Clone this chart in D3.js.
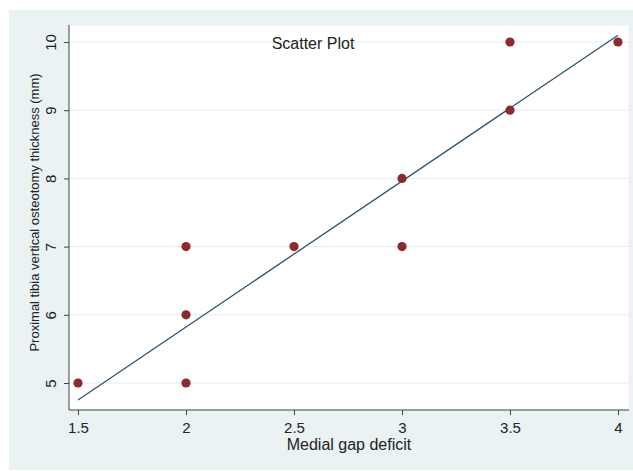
<!DOCTYPE html>
<html><head><meta charset="utf-8">
<script src="https://cdn.jsdelivr.net/npm/d3@7"></script>
<style>body{margin:0;background:#fff;}svg{display:block;font-family:"Liberation Sans",Arial,sans-serif;}</style>
</head><body>
<script>
const xValues = [1.5, 2, 2, 2, 2.5, 3, 3, 3.5, 3.5, 4];
const yValues = [5, 5, 6, 7, 7, 7, 8, 9, 10, 10];
const fitX = [1.5, 4];
const fitY = [4.75, 10.1];
const xTicks = [1.5, 2, 2.5, 3, 3.5, 4];
const yTicks = [5, 6, 7, 8, 9, 10];
const title = "Scatter Plot";
const xLabel = "Medial gap deficit";
const yLabel = "Proximal tibia vertical osteotomy thickness (mm)";

const W = 633, H = 471;
const svg = d3.select("body").append("svg").attr("width", W).attr("height", H);
svg.append("rect").attr("x", 9).attr("y", 10).attr("width", W - 9).attr("height", 460).attr("fill", "#eaf2f3");
const L = 69, R = 629, T = 25, B = 410;
svg.append("rect").attr("x", L).attr("y", T).attr("width", R - L).attr("height", B - T).attr("fill", "#fff").attr("stroke", "#eef2f3");

const x = d3.scaleLinear().domain([1.5, 4]).range([78, 618]);
const y = d3.scaleLinear().domain([5, 10]).range([383, 42]);

svg.append("g").selectAll("line").data(yTicks).join("line")
  .attr("x1", L).attr("x2", R).attr("y1", d => y(d)).attr("y2", d => y(d))
  .attr("stroke", "#e6eced").attr("stroke-width", 1);

const xa = svg.append("g").attr("transform", `translate(0,${B})`)
  .call(d3.axisBottom(x).tickValues(xTicks).tickFormat(d3.format("")).tickSize(5).tickPadding(7));
xa.select(".domain").attr("d", `M${L},0H${R}`).attr("stroke", "#444");
xa.selectAll(".tick line").attr("stroke", "#444");
xa.selectAll("text").attr("font-size", 15).attr("fill", "#222").attr("font-family", "Liberation Sans, Arial, sans-serif");

const ya = svg.append("g").attr("transform", `translate(${L},0)`)
  .call(d3.axisLeft(y).tickValues(yTicks).tickFormat(d3.format("")).tickSize(5).tickPadding(4));
ya.select(".domain").attr("d", `M0,${T}V${B}`).attr("stroke", "#444");
ya.selectAll(".tick line").attr("stroke", "#444");
ya.selectAll("text").attr("font-size", 15).attr("fill", "#222").attr("font-family", "Liberation Sans, Arial, sans-serif")
  .attr("transform", "rotate(-90)").attr("x", 0).attr("y", -13).attr("dy", "0").attr("text-anchor", "middle");

svg.append("line")
  .attr("x1", x(fitX[0])).attr("y1", y(fitY[0])).attr("x2", x(fitX[1])).attr("y2", y(fitY[1]))
  .attr("stroke", "#2e5470").attr("stroke-width", 1.3);

svg.append("g").selectAll("circle").data(xValues.map((d, i) => [d, yValues[i]])).join("circle")
  .attr("cx", d => x(d[0])).attr("cy", d => y(d[1])).attr("r", 4.6).attr("fill", "#8c2a2e");

svg.append("text").attr("x", 313).attr("y", 49).attr("text-anchor", "middle").attr("font-size", 16).attr("fill", "#222").text(title);
svg.append("text").attr("x", 349).attr("y", 450).attr("text-anchor", "middle").attr("font-size", 16).attr("fill", "#222").text(xLabel);
svg.append("text").attr("transform", `translate(39,${(T + B) / 2 - 5}) rotate(-90)`).attr("text-anchor", "middle").attr("font-size", 13).attr("fill", "#222").text(yLabel);
</script>
</body></html>
